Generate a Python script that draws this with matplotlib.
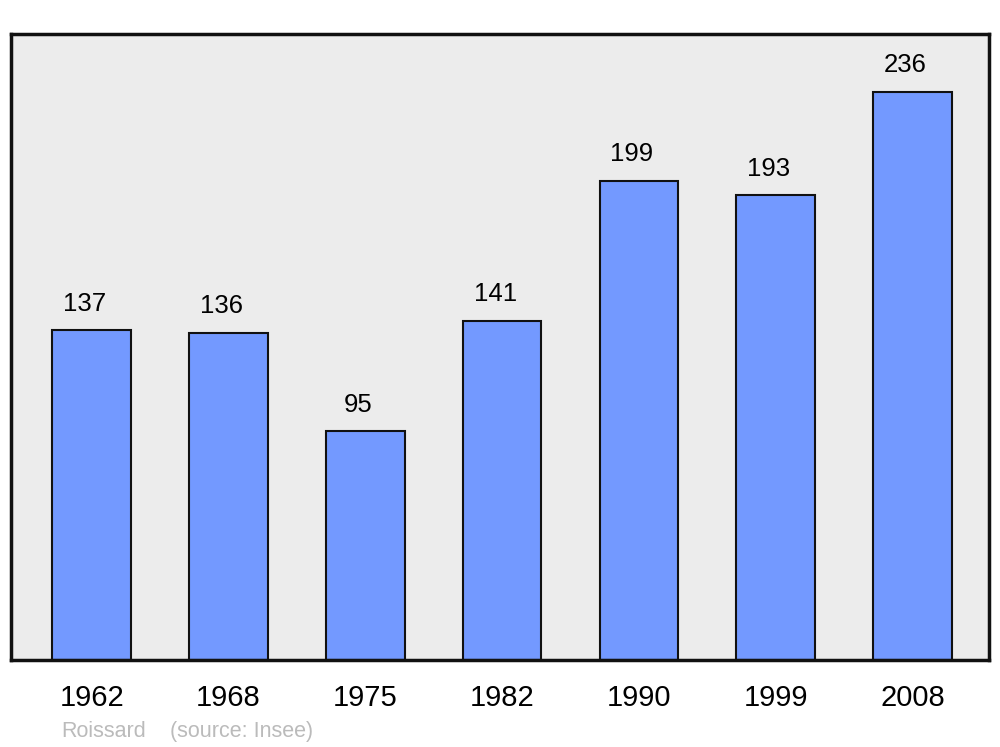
import matplotlib.pyplot as plt

# -----------------------------
# Data
# -----------------------------
years = ["1962", "1968", "1975", "1982", "1990", "1999", "2008"]
population = [137, 136, 95, 141, 199, 193, 236]

plt.rcParams["font.family"] = ["Liberation Sans", "DejaVu Sans"]

# -----------------------------
# Bar Chart
# -----------------------------
fig = plt.figure(figsize=(10, 7.47), dpi=100)
ax = fig.add_axes([0.011, 1 - 660 / 747, 0.978, 626 / 747])
ax.set_facecolor("#ececec")

x = range(len(years))
ax.bar(x, population, width=0.575, color="#7399ff",
       edgecolor="#111111", linewidth=1.5, zorder=2)

for i, v in zip(x, population):
    ax.annotate(str(v), (i, v), xytext=(-5, 10.5), textcoords="offset points",
                ha="center", va="bottom", fontsize=18.5)

ax.set_xlim(-0.59, 6.56)
ax.set_ylim(0, 260)
ax.set_xticks(list(x))
ax.set_xticklabels(years, fontsize=21)
ax.tick_params(axis="x", length=0, pad=17)
ax.set_yticks([])

for s in ax.spines.values():
    s.set_linewidth(2.5)
    s.set_color("#111111")

fig.text(0.061, 0.013, "Roissard", color="#bbbbbb", fontsize=15.5)
fig.text(0.170, 0.013, "(source: Insee)", color="#bbbbbb", fontsize=15.5)

plt.savefig("out.png", dpi=100)
